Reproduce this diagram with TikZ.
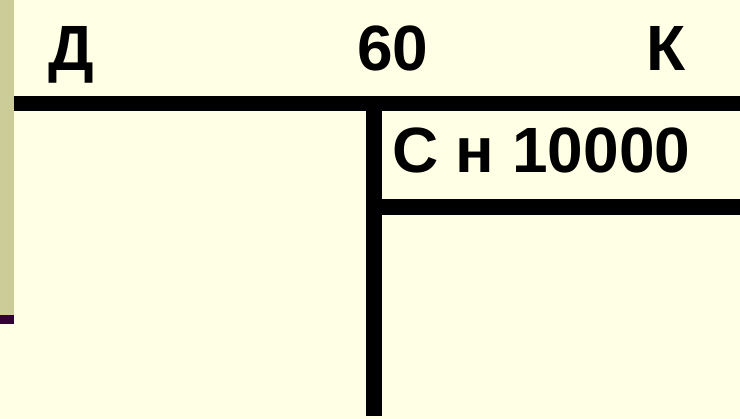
\documentclass[tikz,border=0pt]{standalone}
\usepackage{fontspec}
\setmainfont{Liberation Sans}
\definecolor{bg}{HTML}{FFFFE5}
\definecolor{strip}{HTML}{CCCC99}
\definecolor{darkplum}{HTML}{330033}
\begin{document}
\begin{tikzpicture}[x=1pt,y=-1pt,
  lbl/.style={anchor=base west,inner sep=0pt,outer sep=0pt,font=\fontsize{64}{70}\selectfont\bfseries},
  rule/.style={line width=15.5pt,black}]
\fill[bg] (0,0) rectangle (740,419);
\useasboundingbox (0,0) rectangle (740,419);
\fill[strip] (0,0) rectangle (14,315);
\fill[darkplum] (0,315) rectangle (14,324);
\draw[rule] (14,103.5) -- (740,103.5);
\draw[rule] (374,111) -- (374,416);
\draw[rule] (382,207) -- (740,207);
\node[lbl] (debit) at (48,71) {Д};
\node[lbl] (num) at (357,71) {60};
\node[lbl] (credit) at (646,71) {К};
\node[lbl] (open) at (392,173) {С н 10000};
\end{tikzpicture}
\end{document}
